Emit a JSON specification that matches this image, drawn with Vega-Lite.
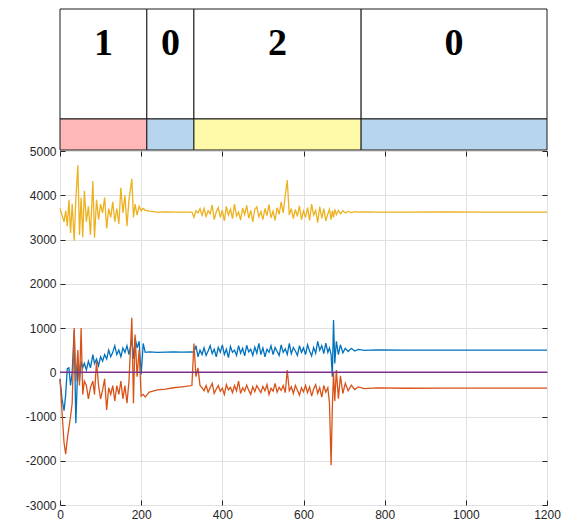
{
  "$schema": "https://vega.github.io/schema/vega-lite/v6.json",
  "padding": {"left": 24, "top": 8, "right": 10, "bottom": 0},
  "spacing": 1,
  "bounds": "flush",
  "background": "white",
  "resolve": {"scale": {"color": "independent", "x": "independent", "y": "independent"}},
  "config": {
    "font": "Liberation Sans",
    "view": {"stroke": "#262626", "strokeWidth": 1},
    "axis": {
      "domain": false,
      "title": null,
      "tickColor": "#262626",
      "tickSize": -5,
      "labelPadding": 9,
      "labelColor": "#262626",
      "labelFont": "Liberation Sans",
      "labelFontSize": 12,
      "labelFlush": false,
      "labelOverlap": false,
      "gridColor": "#e0e0e0",
      "gridWidth": 1
    }
  },
  "datasets": {
    "seg": [
      {"start": 0, "end": 214, "label": "1"},
      {"start": 214, "end": 330, "label": "0"},
      {"start": 330, "end": 742, "label": "2"},
      {"start": 742, "end": 1200, "label": "0"}
    ],
    "sig": [
      {"x": 0, "s1": -150, "s2": -150, "s3": 3700, "s4": 0},
      {"x": 5, "s1": -600, "s2": -900, "s3": 3550, "s4": 0},
      {"x": 10, "s1": -870, "s2": -1600, "s3": 3400, "s4": 0},
      {"x": 14, "s1": -500, "s2": -1850, "s3": 3650, "s4": 0},
      {"x": 18, "s1": 80, "s2": -1500, "s3": 3300, "s4": 0},
      {"x": 22, "s1": 100, "s2": -1250, "s3": 3900, "s4": 0},
      {"x": 26, "s1": -300, "s2": -1000, "s3": 3150, "s4": 0},
      {"x": 30, "s1": 0, "s2": -700, "s3": 3800, "s4": 0},
      {"x": 35, "s1": 950, "s2": 1000, "s3": 2970, "s4": 0},
      {"x": 39, "s1": -1150, "s2": -200, "s3": 3900, "s4": 0},
      {"x": 44, "s1": 200, "s2": 500, "s3": 4680, "s4": 0},
      {"x": 48, "s1": -200, "s2": -300, "s3": 3100, "s4": 0},
      {"x": 52, "s1": 250, "s2": 1000, "s3": 3950, "s4": 0},
      {"x": 56, "s1": 100, "s2": -500, "s3": 3050, "s4": 0},
      {"x": 60, "s1": 200, "s2": -200, "s3": 4100, "s4": 0},
      {"x": 65, "s1": 50, "s2": -300, "s3": 3400, "s4": 0},
      {"x": 70, "s1": 250, "s2": -600, "s3": 3750, "s4": 0},
      {"x": 75, "s1": 100, "s2": -350, "s3": 3100, "s4": 0},
      {"x": 81, "s1": 400, "s2": -200, "s3": 4320, "s4": 0},
      {"x": 85, "s1": 200, "s2": -500, "s3": 3040, "s4": 0},
      {"x": 90, "s1": 300, "s2": 250, "s3": 3900, "s4": 0},
      {"x": 95, "s1": 150, "s2": -300, "s3": 3450, "s4": 0},
      {"x": 100, "s1": 350, "s2": -600, "s3": 3800, "s4": 0},
      {"x": 105, "s1": 250, "s2": -400, "s3": 3600, "s4": 0},
      {"x": 110, "s1": 400, "s2": -150, "s3": 3950, "s4": 0},
      {"x": 115, "s1": 300, "s2": -850, "s3": 3250, "s4": 0},
      {"x": 120, "s1": 500, "s2": -350, "s3": 3700, "s4": 0},
      {"x": 125, "s1": 350, "s2": -500, "s3": 3500, "s4": 0},
      {"x": 130, "s1": 450, "s2": -300, "s3": 3850, "s4": 0},
      {"x": 135, "s1": 600, "s2": -650, "s3": 3400, "s4": 0},
      {"x": 140, "s1": 400, "s2": -300, "s3": 3700, "s4": 0},
      {"x": 145, "s1": 500, "s2": -500, "s3": 3350, "s4": 0},
      {"x": 150, "s1": 350, "s2": -200, "s3": 4170, "s4": 0},
      {"x": 155, "s1": 550, "s2": -600, "s3": 3600, "s4": 0},
      {"x": 160, "s1": 450, "s2": -300, "s3": 4000, "s4": 0},
      {"x": 165, "s1": 600, "s2": -700, "s3": 3300, "s4": 0},
      {"x": 170, "s1": 400, "s2": -200, "s3": 3900, "s4": 0},
      {"x": 177, "s1": 750, "s2": 1230, "s3": 4370, "s4": 0},
      {"x": 181, "s1": 300, "s2": -700, "s3": 3500, "s4": 0},
      {"x": 185, "s1": 780, "s2": 850, "s3": 3800, "s4": 0},
      {"x": 190, "s1": 550, "s2": -100, "s3": 3550, "s4": 0},
      {"x": 195, "s1": 700, "s2": 500, "s3": 3750, "s4": 0},
      {"x": 200, "s1": -50, "s2": -540, "s3": 3650, "s4": 0},
      {"x": 205, "s1": 650, "s2": -500, "s3": 3700, "s4": 0},
      {"x": 210, "s1": 450, "s2": -560, "s3": 3660, "s4": 0},
      {"x": 220, "s1": 460, "s2": -450, "s3": 3640, "s4": 0},
      {"x": 240, "s1": 450, "s2": -400, "s3": 3620, "s4": 0},
      {"x": 260, "s1": 455, "s2": -380, "s3": 3625, "s4": 0},
      {"x": 280, "s1": 460, "s2": -350, "s3": 3620, "s4": 0},
      {"x": 300, "s1": 455, "s2": -330, "s3": 3620, "s4": 0},
      {"x": 325, "s1": 460, "s2": -300, "s3": 3620, "s4": 0},
      {"x": 330, "s1": 450, "s2": 650, "s3": 3500, "s4": 0},
      {"x": 335, "s1": 600, "s2": -100, "s3": 3650, "s4": 0},
      {"x": 340, "s1": 350, "s2": 100, "s3": 3600, "s4": 0},
      {"x": 345, "s1": 500, "s2": -300, "s3": 3700, "s4": 0},
      {"x": 350, "s1": 400, "s2": -350, "s3": 3550, "s4": 0},
      {"x": 355, "s1": 550, "s2": -420, "s3": 3700, "s4": 0},
      {"x": 360, "s1": 380, "s2": -300, "s3": 3520, "s4": 0},
      {"x": 365, "s1": 480, "s2": -450, "s3": 3650, "s4": 0},
      {"x": 370, "s1": 600, "s2": -350, "s3": 3580, "s4": 0},
      {"x": 375, "s1": 420, "s2": -250, "s3": 3780, "s4": 0},
      {"x": 380, "s1": 520, "s2": -480, "s3": 3450, "s4": 0},
      {"x": 385, "s1": 350, "s2": -380, "s3": 3620, "s4": 0},
      {"x": 390, "s1": 560, "s2": -300, "s3": 3720, "s4": 0},
      {"x": 395, "s1": 450, "s2": -430, "s3": 3500, "s4": 0},
      {"x": 400, "s1": 620, "s2": -360, "s3": 3660, "s4": 0},
      {"x": 405, "s1": 400, "s2": -500, "s3": 3420, "s4": 0},
      {"x": 410, "s1": 520, "s2": -280, "s3": 3750, "s4": 0},
      {"x": 415, "s1": 330, "s2": -400, "s3": 3550, "s4": 0},
      {"x": 420, "s1": 580, "s2": -340, "s3": 3690, "s4": 0},
      {"x": 425, "s1": 450, "s2": -460, "s3": 3470, "s4": 0},
      {"x": 430, "s1": 500, "s2": -300, "s3": 3800, "s4": 0},
      {"x": 435, "s1": 380, "s2": -420, "s3": 3530, "s4": 0},
      {"x": 440, "s1": 600, "s2": -200, "s3": 3620, "s4": 0},
      {"x": 445, "s1": 430, "s2": -480, "s3": 3440, "s4": 0},
      {"x": 450, "s1": 540, "s2": -350, "s3": 3710, "s4": 0},
      {"x": 455, "s1": 370, "s2": -430, "s3": 3560, "s4": 0},
      {"x": 460, "s1": 610, "s2": -290, "s3": 3770, "s4": 0},
      {"x": 465, "s1": 460, "s2": -410, "s3": 3480, "s4": 0},
      {"x": 470, "s1": 520, "s2": -500, "s3": 3660, "s4": 0},
      {"x": 475, "s1": 380, "s2": -330, "s3": 3400, "s4": 0},
      {"x": 480, "s1": 570, "s2": -440, "s3": 3680, "s4": 0},
      {"x": 485, "s1": 430, "s2": -300, "s3": 3740, "s4": 0},
      {"x": 490, "s1": 650, "s2": -380, "s3": 3510, "s4": 0},
      {"x": 495, "s1": 400, "s2": -460, "s3": 3630, "s4": 0},
      {"x": 500, "s1": 550, "s2": -320, "s3": 3450, "s4": 0},
      {"x": 505, "s1": 350, "s2": -420, "s3": 3700, "s4": 0},
      {"x": 510, "s1": 520, "s2": -280, "s3": 3540, "s4": 0},
      {"x": 515, "s1": 450, "s2": -500, "s3": 3790, "s4": 0},
      {"x": 520, "s1": 600, "s2": -360, "s3": 3490, "s4": 0},
      {"x": 525, "s1": 400, "s2": -430, "s3": 3640, "s4": 0},
      {"x": 530, "s1": 560, "s2": -250, "s3": 3430, "s4": 0},
      {"x": 535, "s1": 470, "s2": -450, "s3": 3720, "s4": 0},
      {"x": 540, "s1": 380, "s2": -340, "s3": 3570, "s4": 0},
      {"x": 545, "s1": 620, "s2": -410, "s3": 3850, "s4": 0},
      {"x": 550, "s1": 450, "s2": -300, "s3": 3600, "s4": 0},
      {"x": 555, "s1": 530, "s2": -460, "s3": 4000, "s4": 0},
      {"x": 560, "s1": 400, "s2": 50, "s3": 4340, "s4": 0},
      {"x": 565, "s1": 650, "s2": -420, "s3": 3550, "s4": 0},
      {"x": 570, "s1": 420, "s2": -330, "s3": 3700, "s4": 0},
      {"x": 575, "s1": 560, "s2": -480, "s3": 3470, "s4": 0},
      {"x": 580, "s1": 480, "s2": -300, "s3": 3680, "s4": 0},
      {"x": 585, "s1": 380, "s2": -400, "s3": 3520, "s4": 0},
      {"x": 590, "s1": 600, "s2": -520, "s3": 3760, "s4": 0},
      {"x": 595, "s1": 450, "s2": -350, "s3": 3450, "s4": 0},
      {"x": 600, "s1": 550, "s2": -440, "s3": 3650, "s4": 0},
      {"x": 605, "s1": 400, "s2": -300, "s3": 3500, "s4": 0},
      {"x": 610, "s1": 620, "s2": -460, "s3": 3720, "s4": 0},
      {"x": 615, "s1": 480, "s2": -330, "s3": 3430, "s4": 0},
      {"x": 620, "s1": 370, "s2": -540, "s3": 3800, "s4": 0},
      {"x": 625, "s1": 560, "s2": -380, "s3": 3550, "s4": 0},
      {"x": 630, "s1": 430, "s2": -280, "s3": 3660, "s4": 0},
      {"x": 635, "s1": 700, "s2": -480, "s3": 3380, "s4": 0},
      {"x": 640, "s1": 500, "s2": -350, "s3": 3740, "s4": 0},
      {"x": 645, "s1": 600, "s2": -560, "s3": 3480, "s4": 0},
      {"x": 650, "s1": 420, "s2": -300, "s3": 3700, "s4": 0},
      {"x": 655, "s1": 660, "s2": -450, "s3": 3420, "s4": 0},
      {"x": 660, "s1": 450, "s2": -350, "s3": 3580, "s4": 0},
      {"x": 664, "s1": 550, "s2": -700, "s3": 3680, "s4": 0},
      {"x": 668, "s1": 400, "s2": -2100, "s3": 3450, "s4": 0},
      {"x": 671, "s1": -100, "s2": -800, "s3": 3650, "s4": 0},
      {"x": 674, "s1": 1180, "s2": 0, "s3": 3500, "s4": 0},
      {"x": 677, "s1": 200, "s2": -650, "s3": 3680, "s4": 0},
      {"x": 681, "s1": 700, "s2": 50, "s3": 3560, "s4": 0},
      {"x": 686, "s1": 400, "s2": -600, "s3": 3660, "s4": 0},
      {"x": 691, "s1": 620, "s2": -80, "s3": 3580, "s4": 0},
      {"x": 697, "s1": 440, "s2": -480, "s3": 3650, "s4": 0},
      {"x": 703, "s1": 540, "s2": -250, "s3": 3600, "s4": 0},
      {"x": 710, "s1": 470, "s2": -420, "s3": 3635, "s4": 0},
      {"x": 718, "s1": 540, "s2": -290, "s3": 3610, "s4": 0},
      {"x": 726, "s1": 480, "s2": -390, "s3": 3628, "s4": 0},
      {"x": 735, "s1": 515, "s2": -330, "s3": 3618, "s4": 0},
      {"x": 750, "s1": 495, "s2": -370, "s3": 3622, "s4": 0},
      {"x": 780, "s1": 505, "s2": -355, "s3": 3620, "s4": 0},
      {"x": 850, "s1": 500, "s2": -362, "s3": 3618, "s4": 0},
      {"x": 950, "s1": 502, "s2": -358, "s3": 3621, "s4": 0},
      {"x": 1050, "s1": 500, "s2": -360, "s3": 3619, "s4": 0},
      {"x": 1200, "s1": 500, "s2": -360, "s3": 3620, "s4": 0}
    ]
  },
  "vconcat": [
    {
      "width": 487,
      "height": 141,
      "view": {"stroke": null},
      "data": {"name": "seg"},
      "transform": [{"calculate": "(datum.start + datum.end) / 2", "as": "mid"}],
      "layer": [
        {
          "mark": {"type": "rect", "fill": "white", "stroke": "#1a1a1a", "strokeWidth": 1},
          "encoding": {
            "x": {"field": "start", "type": "quantitative", "scale": {"domain": [0, 1200], "nice": false}, "axis": null},
            "x2": {"field": "end"},
            "y": {"datum": 0.22, "type": "quantitative", "scale": {"domain": [0, 1], "nice": false}, "axis": null},
            "y2": {"datum": 1}
          }
        },
        {
          "mark": {"type": "rect", "stroke": "#1a1a1a", "strokeWidth": 1, "opacity": 1},
          "encoding": {
            "x": {"field": "start", "type": "quantitative"},
            "x2": {"field": "end"},
            "y": {"datum": 0, "type": "quantitative"},
            "y2": {"datum": 0.22},
            "color": {"field": "label", "type": "nominal", "scale": {"domain": ["1", "0", "2"], "range": ["#ffb7b7", "#b7d6ee", "#fff9aa"]}, "legend": null}
          }
        },
        {
          "mark": {"type": "text", "font": "Liberation Serif", "fontWeight": "bold", "fontSize": 38, "baseline": "middle", "align": "center", "color": "#000000"},
          "encoding": {
            "x": {"field": "mid", "type": "quantitative"},
            "y": {"datum": 0.75, "type": "quantitative"},
            "text": {"field": "label"}
          }
        }
      ]
    },
    {
      "width": 487,
      "height": 354,
      "data": {"name": "sig"},
      "resolve": {"axis": {"x": "independent", "y": "independent"}},
      "layer": [
        {
          "transform": [{"fold": ["s1", "s2", "s3"], "as": ["series", "value"]}],
          "mark": {"type": "line", "strokeWidth": 1.3},
          "encoding": {
            "x": {"field": "x", "type": "quantitative", "scale": {"domain": [0, 1200], "nice": false},
                  "axis": {"orient": "bottom", "values": [0, 200, 400, 600, 800, 1000, 1200], "grid": true, "labelExpr": "'' + datum.value"}},
            "y": {"field": "value", "type": "quantitative", "scale": {"domain": [-3000, 5000], "nice": false},
                  "axis": {"orient": "left", "values": [-3000, -2000, -1000, 0, 1000, 2000, 3000, 4000, 5000], "grid": true, "labelExpr": "'' + datum.value"}},
            "color": {"field": "series", "type": "nominal", "scale": {"domain": ["s1", "s2", "s3"], "range": ["#0072BD", "#D95319", "#EDB120"]}, "legend": null}
          }
        },
        {
          "mark": {"type": "line", "strokeWidth": 1.3, "color": "#7E2F8E"},
          "encoding": {
            "x": {"field": "x", "type": "quantitative",
                  "axis": {"orient": "top", "values": [0, 200, 400, 600, 800, 1000, 1200], "grid": false, "labels": false, "minExtent": 0, "maxExtent": 0}},
            "y": {"field": "s4", "type": "quantitative",
                  "axis": {"orient": "right", "values": [-3000, -2000, -1000, 0, 1000, 2000, 3000, 4000, 5000], "grid": false, "labels": false, "minExtent": 0, "maxExtent": 0}}
          }
        }
      ]
    }
  ]
}
